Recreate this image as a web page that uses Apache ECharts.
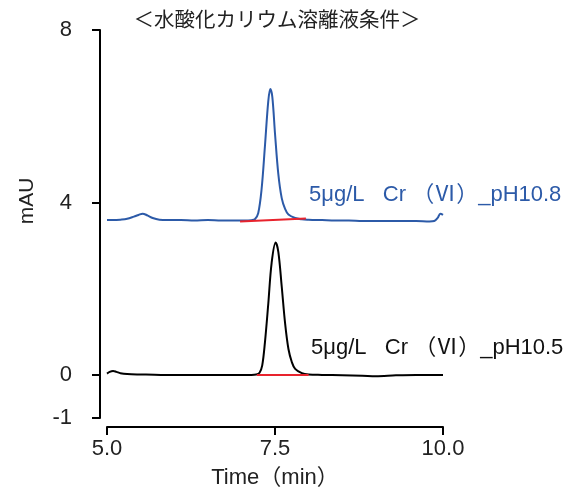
<!DOCTYPE html>
<html>
<head>
<meta charset="utf-8">
<script src="https://cdn.jsdelivr.net/npm/echarts@6/dist/echarts.min.js"></script>
<style>
  html, body { margin: 0; padding: 0; background: #fff; }
  #chart { width: 569px; height: 490px; }
</style>
</head>
<body>
<div id="chart"></div>
<script>
// Chromatograms of Cr(VI) under KOH eluent, two pH conditions (time in min, absorbance in mAU)
const chartTitle = '＜水酸化カリウム溶離液条件＞';
const xName = 'Time（min）';
const yName = 'mAU';
const xTicks = [5.0, 7.5, 10.0];
const yTicks = [-1, 0, 4, 8];

const labelPH108 = '5μg/L   Cr （Ⅵ）_pH10.8';
const labelPH105 = '5μg/L   Cr （Ⅵ）_pH10.5';

// pH 10.8 trace (drawn with its own baseline offset)
const tracePH108 = [
  [5.00, 3.59], [5.10, 3.59], [5.20, 3.60], [5.30, 3.62], [5.40, 3.67], [5.47, 3.71],
  [5.53, 3.74], [5.60, 3.70], [5.68, 3.64], [5.78, 3.60], [5.90, 3.59], [6.10, 3.59],
  [6.30, 3.58], [6.50, 3.59], [6.70, 3.58], [6.90, 3.58], [7.05, 3.58], [7.15, 3.59],
  [7.20, 3.61], [7.25, 3.75], [7.30, 4.30], [7.35, 5.30], [7.40, 6.35], [7.43, 6.63],
  [7.46, 6.45], [7.50, 5.60], [7.55, 4.65], [7.60, 4.10], [7.65, 3.85], [7.70, 3.72],
  [7.80, 3.64], [7.90, 3.61], [8.00, 3.60], [8.20, 3.59], [8.40, 3.58], [8.60, 3.58],
  [8.80, 3.57], [9.00, 3.57], [9.20, 3.57], [9.40, 3.57], [9.60, 3.57], [9.80, 3.56],
  [9.87, 3.57], [9.92, 3.64], [9.96, 3.74], [10.00, 3.71]
];

// pH 10.5 trace
const tracePH105 = [
  [5.00, 0.03], [5.04, 0.07], [5.09, 0.09], [5.14, 0.07], [5.20, 0.04], [5.30, 0.02],
  [5.50, 0.01], [5.80, 0.00], [6.10, 0.00], [6.40, 0.00], [6.70, 0.00], [7.00, 0.00],
  [7.15, 0.00], [7.22, 0.01], [7.27, 0.05], [7.31, 0.22], [7.35, 0.75], [7.40, 1.65],
  [7.45, 2.60], [7.51, 3.07], [7.55, 2.85], [7.60, 2.05], [7.65, 1.20], [7.70, 0.60],
  [7.75, 0.30], [7.80, 0.14], [7.90, 0.04], [8.00, 0.01], [8.20, 0.00], [8.50, -0.01],
  [8.80, -0.02], [9.00, -0.03], [9.30, -0.01], [9.60, 0.00], [10.00, 0.00]
];

// Integration baselines under each peak
const basePH108 = [[6.98, 3.56], [7.96, 3.63]];
const basePH105 = [[7.23, 0.00], [8.00, 0.00]];

const blue = '#2c5aa8';
const red = '#e8232d';
const cjkFont = '"Noto Sans CJK JP", "Noto Sans", sans-serif';
const font = '"Liberation Sans", "Noto Sans CJK JP", sans-serif';

const chart = echarts.init(document.getElementById('chart'));

const bounds = { left: 0, right: 0, top: 0, bottom: 0 };

// grid 0: plot area; grid 1: detached time axis resting on its lower edge (y = 0 there)
chart.setOption({
  backgroundColor: '#ffffff',
  animation: false,
  title: {
    text: chartTitle,
    left: 272, top: 4, textAlign: 'center',
    textStyle: { fontFamily: cjkFont, fontSize: 20.5, fontWeight: 'normal', color: '#222' }
  },
  grid: [
    { left: 107, right: 126, top: 30, bottom: 72, outerBounds: bounds },
    { left: 107, right: 126, top: 30, bottom: 63, outerBounds: bounds }
  ],
  xAxis: [
    {
      gridIndex: 0, type: 'value', min: 5, max: 10, interval: 2.5, show: false
    },
    {
      gridIndex: 1, type: 'value', min: 5, max: 10, interval: 2.5,
      position: 'bottom',
      axisLine: { show: true, lineStyle: { color: '#000', width: 2 } },
      axisTick: { show: true, length: 8, lineStyle: { color: '#000', width: 2 } },
      axisLabel: {
        margin: 11, fontFamily: font, fontSize: 22, color: '#222',
        formatter: v => xTicks.includes(v) ? v.toFixed(1) : ''
      },
      splitLine: { show: false }
    }
  ],
  yAxis: [
    {
      gridIndex: 0, type: 'value', min: -1, max: 8,
      offset: 7,
      axisLine: { show: true, lineStyle: { color: '#000', width: 2 } },
      axisTick: { show: true, length: 8, customValues: yTicks, lineStyle: { color: '#000', width: 2 } },
      axisLabel: {
        margin: 28, fontFamily: font, fontSize: 22, color: '#222',
        customValues: yTicks
      },
      splitLine: { show: false }
    },
    {
      gridIndex: 1, type: 'value', min: 0, max: 1,
      axisLine: { show: false },
      axisTick: { show: false },
      axisLabel: { show: false },
      splitLine: { show: false }
    }
  ],
  series: [
    {
      type: 'line', data: tracePH108, showSymbol: false, smooth: 0.35,
      lineStyle: { color: blue, width: 2 }, z: 2
    },
    {
      type: 'line', data: tracePH105, showSymbol: false, smooth: 0.35,
      lineStyle: { color: '#000', width: 2 }, z: 2
    },
    {
      type: 'line', data: basePH108, showSymbol: false,
      lineStyle: { color: red, width: 2 }, z: 3
    },
    {
      type: 'line', data: basePH105, showSymbol: false,
      lineStyle: { color: red, width: 2 }, z: 3
    }
  ],
  graphic: [
    {
      type: 'text', x: 27, y: 201, rotation: Math.PI / 2,
      style: { text: yName, fontFamily: font, fontSize: 21, fill: '#222', align: 'center', verticalAlign: 'middle' }
    },
    {
      type: 'text', x: 275, y: 478,
      style: { text: xName, fontFamily: font, fontSize: 22, fill: '#222', align: 'center', verticalAlign: 'middle' }
    },
    {
      type: 'text', left: 309, top: 184,
      style: { text: labelPH108, fontFamily: font, fontSize: 22, fill: blue }
    },
    {
      type: 'text', left: 311, top: 337,
      style: { text: labelPH105, fontFamily: font, fontSize: 22, fill: '#111' }
    }
  ]
});
</script>
</body>
</html>
